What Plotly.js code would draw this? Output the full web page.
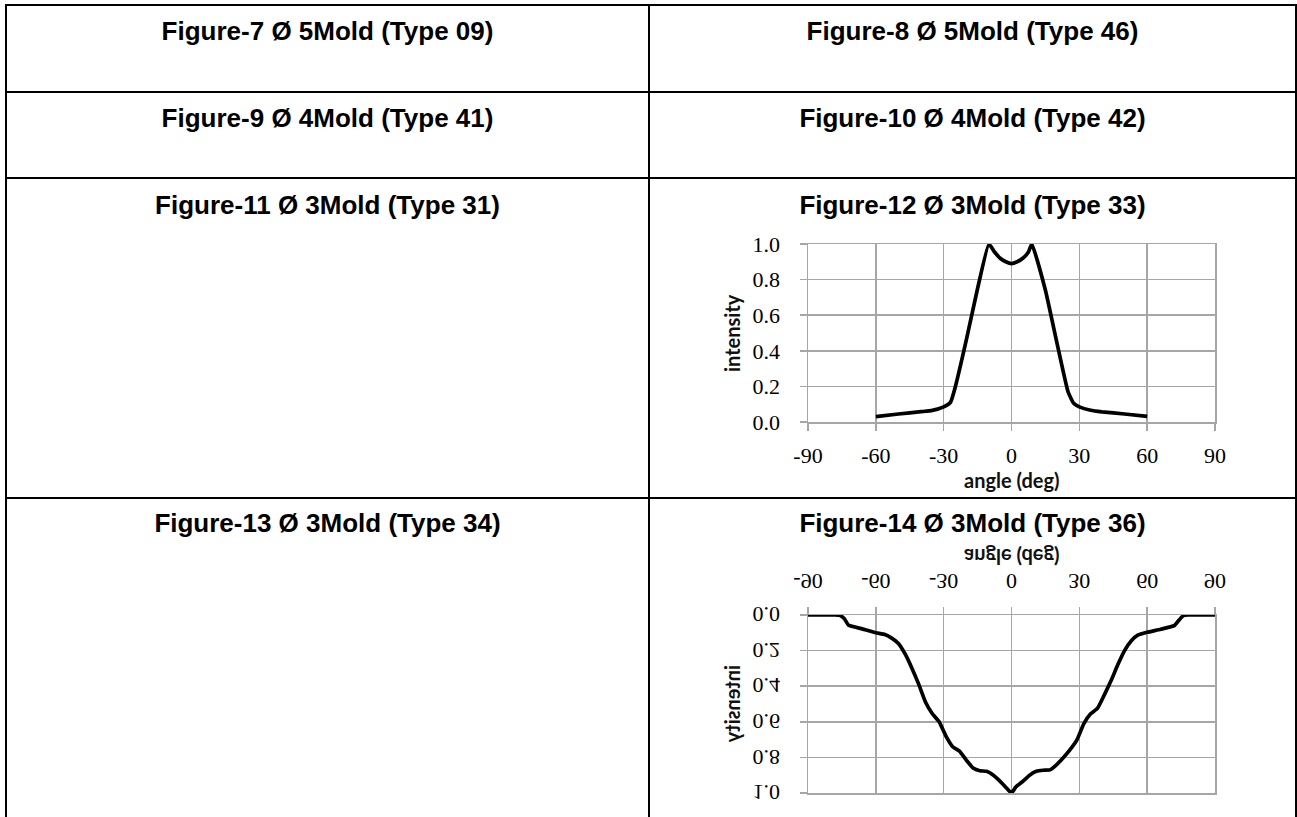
<!DOCTYPE html>
<html>
<head>
<meta charset="utf-8">
<script src="https://cdn.plot.ly/plotly-3.0.1.min.js"></script>
<style>
  html, body { margin:0; padding:0; width:1297px; height:817px; overflow:hidden; background:#fff; }
  .ln { position:absolute; background:#000; }
  .ttl { position:absolute; font-family:"Liberation Sans", Arial, sans-serif; font-weight:bold; font-size:26px; color:#000; white-space:nowrap; text-align:center; line-height:30px; }
  .chart { position:absolute; }
</style>
</head>
<body>
<div class="ln" style="left:5px; top:4px; width:1292px; height:2px;"></div>
<div class="ln" style="left:5px; top:4px; width:2px; height:813px;"></div>
<div class="ln" style="left:648px; top:4px; width:2px; height:813px;"></div>
<div class="ln" style="left:1295px; top:4px; width:2px; height:813px;"></div>
<div class="ln" style="left:5px; top:91px; width:1292px; height:2px;"></div>
<div class="ln" style="left:5px; top:177px; width:1292px; height:2px;"></div>
<div class="ln" style="left:5px; top:497px; width:1292px; height:2px;"></div>

<div class="ttl" id="t7"  style="left:7px;   width:641px; top:16px;"></div>
<div class="ttl" id="t8"  style="left:650px; width:645px; top:16px;"></div>
<div class="ttl" id="t9"  style="left:7px;   width:641px; top:103px;"></div>
<div class="ttl" id="t10" style="left:650px; width:645px; top:103px;"></div>
<div class="ttl" id="t11" style="left:7px;   width:641px; top:190px;"></div>
<div class="ttl" id="t12" style="left:650px; width:645px; top:190px;"></div>
<div class="ttl" id="t13" style="left:7px;   width:641px; top:508px;"></div>
<div class="ttl" id="t14" style="left:650px; width:645px; top:508px;"></div>

<div class="chart" id="c12" style="left:700px; top:224px; width:535px; height:268px;"></div>
<div class="chart" id="c14" style="left:700px; top:535px; width:535px; height:278px; transform:scaleY(-1); transform-origin:50% 50%;"></div>

<script>
// ---- data ----
const figureTitles = {
  t7: "Figure-7 Ø 5Mold (Type 09)",
  t8: "Figure-8 Ø 5Mold (Type 46)",
  t9: "Figure-9 Ø 4Mold (Type 41)",
  t10: "Figure-10 Ø 4Mold (Type 42)",
  t11: "Figure-11 Ø 3Mold (Type 31)",
  t12: "Figure-12 Ø 3Mold (Type 33)",
  t13: "Figure-13 Ø 3Mold (Type 34)",
  t14: "Figure-14 Ø 3Mold (Type 36)"
};

const angle33 = [-60,-50,-40,-35,-30,-27,-25,-20,-15,-10,-7.5,-5,-2.5,0,2.5,5,7.5,9,15,20,25,27.5,30,35,40,50,60];
const intensity33 = [0.03,0.045,0.058,0.065,0.085,0.11,0.19,0.46,0.75,1.0,0.955,0.92,0.9,0.89,0.9,0.92,0.955,1.0,0.74,0.45,0.17,0.105,0.085,0.066,0.057,0.045,0.032];

const angle36 = [-90,-84,-78,-76,-74,-72,-66,-60,-56,-53,-50,-47,-44,-41,-38,-35,-32,-29,-26,-23,-20,-17,-14,-11,-8,-5,-2,0,
                 2,5,8,11,14,17,20,23,26,29,32,35,38,41,44,47,50,53,56,60,66,72,74,76,78,84,90];
const intensity36 = [0,0,0,0.002,0.02,0.058,0.078,0.1,0.11,0.13,0.16,0.22,0.3,0.39,0.49,0.555,0.6,0.68,0.74,0.765,0.815,0.86,0.875,0.878,0.9,0.935,0.975,1.0,
                     0.965,0.935,0.9,0.878,0.872,0.87,0.84,0.8,0.755,0.7,0.61,0.555,0.525,0.45,0.37,0.28,0.2,0.145,0.112,0.097,0.08,0.06,0.03,0.004,0,0,0];

const xTicks = [-90,-60,-30,0,30,60,90];
const yTicks = [0,0.2,0.4,0.6,0.8,1.0];
const xTitle = "angle (deg)";
const yTitle = "intensity";

// ---- titles ----
for (const k in figureTitles) document.getElementById(k).textContent = figureTitles[k];

// ---- charts ----
function makeLayout(h, bottom, xTitleShift) {
  const grid = "#a6a6a6";
  const tickFont = { family: "Liberation Serif, DejaVu Serif, serif", size: 22, color: "#000" };
  const titleFont = { family: "Lato, Open Sans, sans-serif", size: 20, color: "#111", weight: "bold" };
  return {
    width: 535, height: h,
    margin: { l: 108, r: 20, t: 20, b: bottom },
    paper_bgcolor: "rgba(0,0,0,0)", plot_bgcolor: "rgba(0,0,0,0)",
    showlegend: false,
    xaxis: {
      range: [-90, 90], tickvals: xTicks, ticktext: xTicks.map(String),
      showgrid: true, gridcolor: grid, gridwidth: 1.5,
      showline: true, linecolor: grid, linewidth: 1.5, mirror: true,
      zeroline: false, ticks: "outside", ticklen: 7, tickcolor: grid, tickwidth: 1.5,
      ticklabelstandoff: 6,
      tickfont: tickFont, fixedrange: true
    },
    yaxis: {
      range: [0, 1], tickvals: yTicks, ticktext: yTicks.map(v => v.toFixed(1)),
      showgrid: true, gridcolor: grid, gridwidth: 1.5,
      showline: true, linecolor: grid, linewidth: 1.5, mirror: true,
      zeroline: false, ticks: "outside", ticklen: 7, tickcolor: grid, tickwidth: 1.5,
      ticklabelstandoff: 15,
      tickfont: tickFont, fixedrange: true
    },
    annotations: [
      { text: xTitle, xref: "paper", yref: "paper", x: 0.5, y: 0, yanchor: "middle", xanchor: "center",
        yshift: xTitleShift, showarrow: false, font: titleFont },
      { text: yTitle, xref: "paper", yref: "paper", x: 0, y: 0.5, xanchor: "center", yanchor: "middle",
        xshift: -76, textangle: -90, showarrow: false, font: titleFont }
    ]
  };
}

const lineStyle = { color: "#000", width: 3.7, shape: "spline", smoothing: 0.4 };

Plotly.newPlot("c12", [{
  x: angle33, y: intensity33, type: "scatter", mode: "lines", line: lineStyle, hoverinfo: "skip"
}], makeLayout(268, 70, -58), { staticPlot: true });

Plotly.newPlot("c14", [{
  x: angle36, y: intensity36, type: "scatter", mode: "lines", line: lineStyle, hoverinfo: "skip"
}], makeLayout(278, 80, -58), { staticPlot: true });
</script>
</body>
</html>
